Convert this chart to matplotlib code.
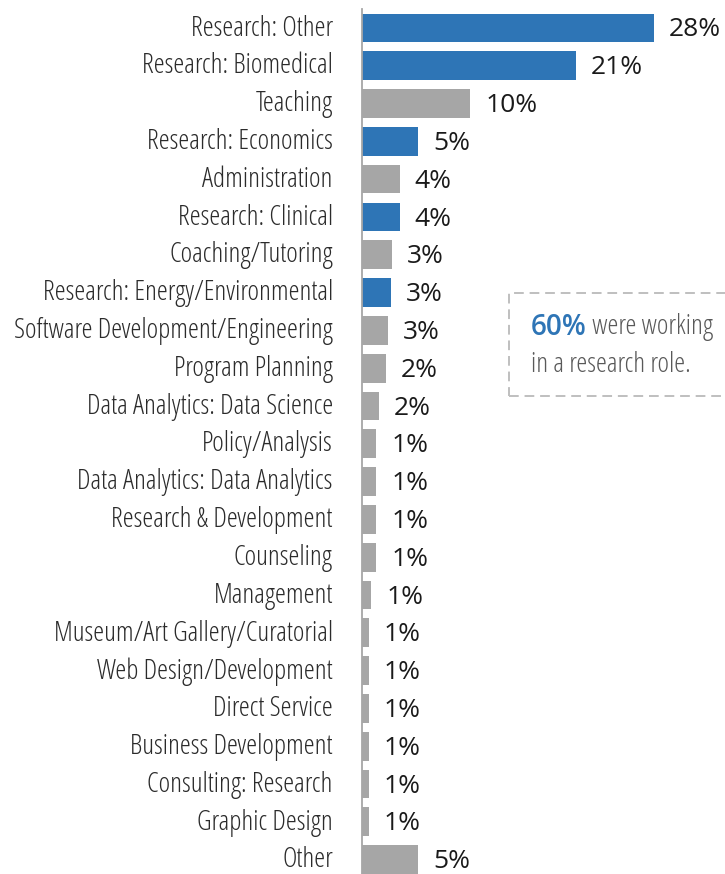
import matplotlib.pyplot as plt
import matplotlib.patches as mpatches
from matplotlib.transforms import ScaledTranslation

# --- DADOS ---
categorias = [
    "Research: Other", "Research: Biomedical", "Teaching", "Research: Economics",
    "Administration", "Research: Clinical", "Coaching/Tutoring",
    "Research: Energy/Environmental", "Software Development/Engineering",
    "Program Planning", "Data Analytics: Data Science", "Policy/Analysis",
    "Data Analytics: Data Analytics", "Research & Development", "Counseling",
    "Management", "Museum/Art Gallery/Curatorial", "Web Design/Development",
    "Direct Service", "Business Development", "Consulting: Research",
    "Graphic Design", "Other",
]
valores = [28.0, 20.5, 10.4, 5.4, 3.6, 3.6, 2.9, 2.8, 2.5, 2.3, 1.6, 1.35,
           1.35, 1.35, 1.35, 0.9, 0.65, 0.65, 0.65, 0.65, 0.65, 0.65, 5.4]
rotulos = ["28%", "21%", "10%", "5%", "4%", "4%", "3%", "3%", "3%", "2%", "2%",
           "1%", "1%", "1%", "1%", "1%", "1%", "1%", "1%", "1%", "1%", "1%", "5%"]
pesquisa = [True, True, False, True, False, True, False, True] + [False] * 15

AZUL = "#2E75B6"
CINZA = "#A6A6A6"
FONTE = ["Open Sans", "DejaVu Sans"]

fig = plt.figure(figsize=(7.25, 8.74), dpi=100)
ax = fig.add_axes([362 / 725, 0, 363 / 725, 865 / 874])

posicoes = list(range(len(categorias)))
cores = [AZUL if p else CINZA for p in pesquisa]
ax.barh(posicoes, valores, height=0.76, color=cores)

ax.set_xlim(0, 34.8)
ax.set_ylim(22.38, -0.5)

for pos, val, txt in zip(posicoes, valores, rotulos):
    ax.annotate(txt, (val, pos), xytext=(10.8, -1.5), textcoords="offset points",
                va="center", ha="left", fontsize=19, color="#1a1a1a",
                family=FONTE)

ax.set_yticks(posicoes)
ax.set_yticklabels(categorias, family=FONTE, fontstretch="condensed",
                   fontsize=20, color="#2b2b2b", va="center_baseline")
ax.tick_params(axis="y", length=0, pad=21)
ax.set_xticks([])
# sobe um pouco os rótulos para não cortar o último
desloc = ScaledTranslation(0, 2 / 72, fig.dpi_scale_trans)
for lbl in ax.get_yticklabels():
    lbl.set_transform(lbl.get_transform() + desloc)

for lado in ["top", "right", "bottom"]:
    ax.spines[lado].set_visible(False)
ax.spines["left"].set_color(CINZA)
ax.spines["left"].set_linewidth(1.3)

# --- CAIXA DE DESTAQUE ---
caixa = mpatches.Rectangle((509 / 725, 1 - 396 / 874), 0.5, 103 / 874,
                           transform=fig.transFigure, fill=False,
                           edgecolor="#BFBFBF", linewidth=1.4,
                           linestyle=(0, (5, 3)))
fig.patches.append(caixa)

t1 = fig.text(531 / 725, 1 - 327 / 874, "60%", fontsize=20, fontweight=600,
              fontstretch="condensed", color=AZUL, family=FONTE,
              va="center", ha="left")
fig.canvas.draw()
larg = t1.get_window_extent().width
fig.text((531 + larg) / 725, 1 - 327 / 874, " were working", fontsize=20,
         fontstretch="condensed", color="#595959", family=FONTE,
         va="center", ha="left")
fig.text(531 / 725, 1 - 365 / 874, "in a research role.", fontsize=20,
         fontstretch="condensed", color="#595959", family=FONTE,
         va="center", ha="left")

plt.savefig("out.png", dpi=100)
